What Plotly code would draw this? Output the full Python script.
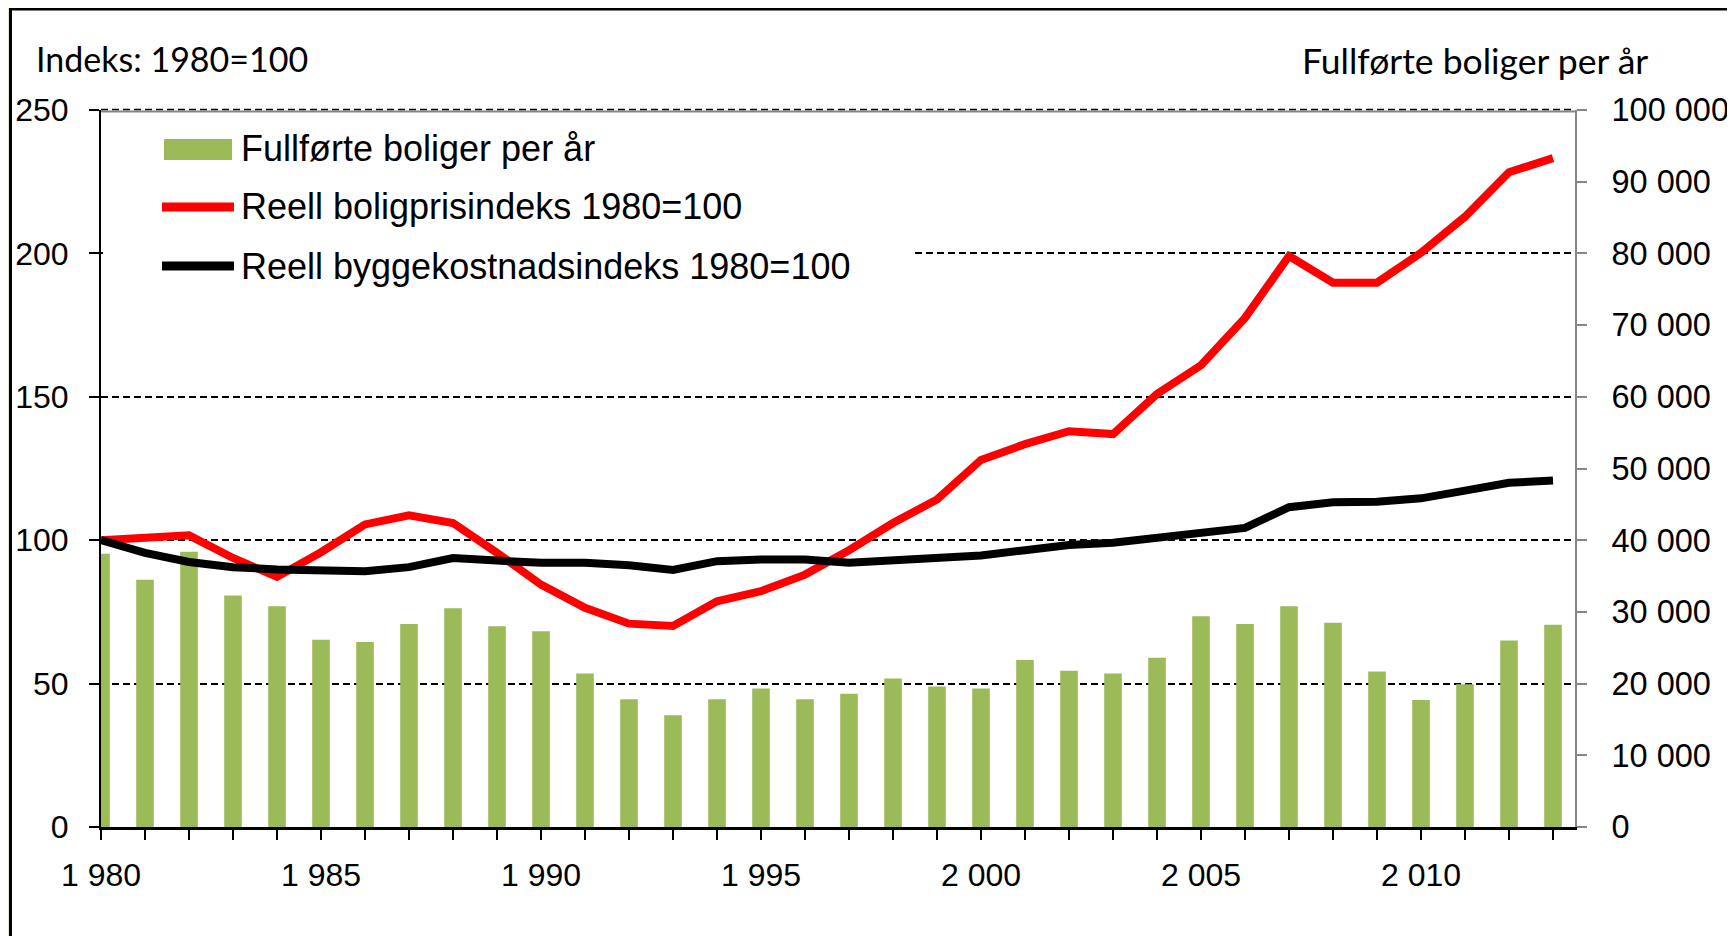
import plotly.graph_objects as go

# ---------------- data ----------------
years = list(range(1980, 2014))

completed_dwellings = [
    38100, 34500, 38400, 32300, 30800, 26100, 25800, 28300, 30500, 28000,
    27300, 21400, 17800, 15600, 17800, 19300, 17800, 18600, 20700, 19600,
    19300, 23300, 21800, 21400, 23600, 29400, 28300, 30800, 28500, 21700,
    17700, 19900, 26000, 28200,
]

house_price_index = [
    100.0, 101.0, 101.7, 93.8, 87.2, 95.8, 105.5, 108.7, 106.0, 95.6,
    84.5, 76.4, 70.9, 70.1, 78.7, 82.2, 88.0, 96.5, 106.0, 114.2,
    128.0, 133.5, 138.0, 137.0, 151.0, 161.0, 177.5, 199.1, 189.8, 189.8,
    200.2, 212.8, 228.3, 233.2,
]

construction_cost_index = [
    100.0, 95.6, 92.4, 90.6, 89.8, 89.2, 89.2, 90.6, 93.8, 92.9,
    92.1, 92.1, 91.3, 89.6, 92.7, 93.3, 93.3, 92.1, 92.9, 93.3,
    94.7, 96.5, 98.3, 99.1, 100.8, 102.6, 104.3, 111.5, 113.2, 113.4,
    114.6, 117.3, 120.0, 120.8,
]

name_bars = "Fullførte boliger per år"
name_price = "Reell boligprisindeks 1980=100"
name_cost = "Reell byggekostnadsindeks 1980=100"
left_title = "Indeks: 1980=100"
right_title = "Fullførte boliger per år"

# ---------------- style ----------------
OFF = 8                                   # default page body margin
W, H = 1735 - OFF, 936 - OFF
L, R, T, B = 101, 1575, 110, 827          # plot area in page pixels
GREEN, RED, BLACK, GREY = "#9BBB59", "#FF0000", "#000000", "#868686"
FONT = "Arial, Liberation Sans, sans-serif"
TITLE_FONT = "Lato, Open Sans, sans-serif"


def fx(px):
    return (px - L) / (R - L)


def fy(py):
    return (B - py) / (B - T)


fig = go.Figure()

fig.add_trace(go.Bar(
    x=years, y=completed_dwellings, name=name_bars, yaxis="y",
    marker=dict(color=GREEN, line=dict(width=0)), width=0.4,
    showlegend=False,
))
fig.add_trace(go.Scatter(
    x=years, y=house_price_index, name=name_price, yaxis="y2", mode="lines",
    line=dict(color=RED, width=8), showlegend=False,
))
fig.add_trace(go.Scatter(
    x=years, y=construction_cost_index, name=name_cost, yaxis="y2", mode="lines",
    line=dict(color=BLACK, width=8), showlegend=False,
))

shapes = []
# slide background strip and chart frame
shapes.append(dict(type="rect", xref="paper", yref="paper",
                   x0=fx(-5), x1=fx(9), y0=fy(950), y1=fy(-5),
                   fillcolor="#E3E9D3", line=dict(width=0), layer="below"))
shapes.append(dict(type="rect", xref="paper", yref="paper",
                   x0=fx(10.5), x1=fx(1731), y0=fy(960), y1=fy(9),
                   fillcolor="rgba(0,0,0,0)", line=dict(color=BLACK, width=3)))
# top border of plot area (grey) with the dashed 250 gridline on it
shapes.append(dict(type="line", xref="paper", yref="paper",
                   x0=0, x1=1, y0=fy(111.5), y1=fy(111.5),
                   line=dict(color=GREY, width=2), layer="below"))
shapes.append(dict(type="line", xref="paper", yref="paper",
                   x0=0, x1=1, y0=fy(109.5), y1=fy(109.5),
                   line=dict(color=BLACK, width=1.5, dash="7px,4px"), layer="below"))

# custom legend box
shapes.append(dict(type="rect", xref="paper", yref="paper",
                   x0=fx(103), x1=fx(912), y0=fy(290), y1=fy(116),
                   fillcolor="white", line=dict(width=0)))
shapes.append(dict(type="rect", xref="paper", yref="paper",
                   x0=fx(164), x1=fx(232), y0=fy(160), y1=fy(139),
                   fillcolor=GREEN, line=dict(width=0)))
shapes.append(dict(type="line", xref="paper", yref="paper",
                   x0=fx(162), x1=fx(234), y0=fy(207), y1=fy(207),
                   line=dict(color=RED, width=9)))
shapes.append(dict(type="line", xref="paper", yref="paper",
                   x0=fx(162), x1=fx(234), y0=fy(266), y1=fy(266),
                   line=dict(color=BLACK, width=9)))

annotations = []
for text, ypix in [(name_bars, 148), (name_price, 207), (name_cost, 266)]:
    annotations.append(dict(text=text, xref="paper", yref="paper",
                            x=fx(239), y=fy(ypix), xanchor="left", yanchor="middle",
                            showarrow=False, font=dict(family=FONT, size=36, color=BLACK)))
annotations.append(dict(text=left_title, xref="paper", yref="paper",
                        x=fx(34), y=fy(58), xanchor="left", yanchor="middle",
                        showarrow=False, font=dict(family=TITLE_FONT, size=34, color=BLACK)))
annotations.append(dict(text=right_title, xref="paper", yref="paper",
                        x=fx(1650), y=fy(61), xanchor="right", yanchor="middle",
                        showarrow=False, font=dict(family=TITLE_FONT, size=35.5, color=BLACK)))

fig.update_layout(
    width=W, height=H,
    margin=dict(l=L - OFF, r=W - (R - OFF), t=T - OFF, b=H - (B - OFF), pad=0,
                autoexpand=False),
    paper_bgcolor="white", plot_bgcolor="white",
    separators=", ",
    font=dict(family=FONT, size=32, color=BLACK),
    xaxis=dict(
        range=[1980, 2013.5], tick0=1980, dtick=5, tickformat=",d",
        showline=True, linecolor=BLACK, linewidth=3,
        ticks="outside", ticklen=10, tickwidth=2, tickcolor=BLACK,
        minor=dict(dtick=1, ticks="outside", ticklen=10, tickwidth=2, tickcolor=BLACK),
        showgrid=False, zeroline=False, ticklabelstandoff=8, automargin=False,
        tickfont=dict(family=FONT, size=32, color=BLACK),
    ),
    yaxis=dict(
        side="right", range=[0, 100000], dtick=10000, tickformat=",d",
        showline=True, linecolor=GREY, linewidth=2,
        ticks="outside", ticklen=10, tickwidth=2, tickcolor=GREY,
        showgrid=False, zeroline=False, ticklabelstandoff=18, automargin=False,
        tickfont=dict(family=FONT, size=32.5, color=BLACK),
    ),
    yaxis2=dict(
        side="left", overlaying="y", range=[0, 250], dtick=50,
        showline=True, linecolor=BLACK, linewidth=2,
        ticks="outside", ticklen=10, tickwidth=2, tickcolor=BLACK,
        showgrid=True, gridcolor=BLACK, gridwidth=1.5, griddash="7px,4px",
        zeroline=False, ticklabelstandoff=14, automargin=False,
        tickfont=dict(family=FONT, size=32, color=BLACK),
    ),
    shapes=shapes,
    annotations=annotations,
    showlegend=False,
)

fig.write_html("out.html")
